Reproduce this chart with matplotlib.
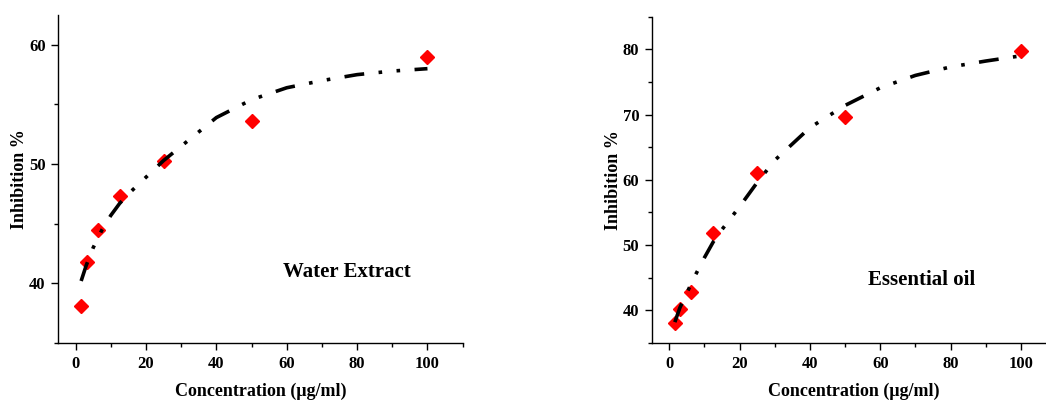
import numpy as np
import matplotlib
matplotlib.use("Agg")
import matplotlib.pyplot as plt
from matplotlib.ticker import MultipleLocator

plt.rcParams['font.family'] = ['Liberation Serif', 'DejaVu Serif']
plt.rcParams['font.weight'] = 'bold'

# concentrations (ug/ml)
conc = [1.5625, 3.125, 6.25, 12.5, 25, 50, 100]

# measured inhibition %
water = [38.1, 41.8, 44.5, 47.3, 50.3, 53.6, 59.0]
oil = [38.1, 40.2, 42.8, 51.8, 61.0, 69.6, 79.7]

# fitted curves
fit_x = [1.5625, 3, 5, 7.5, 10, 12.5, 15, 20, 25, 30, 40, 50, 60, 70, 80, 90, 100]
water_fit = [40.2, 41.5, 43.0, 44.5, 45.7, 46.7, 47.5, 48.9, 50.3, 51.5, 53.9, 55.4, 56.4, 57.0, 57.5, 57.8, 58.0]
oil_fit = [38.2, 40.4, 42.7, 45.5, 48.1, 50.5, 52.4, 55.9, 59.6, 63.0, 68.0, 71.4, 74.1, 76.0, 77.3, 78.2, 79.0]

labels = ['Water Extract', 'Essential oil']

fig = plt.figure(figsize=(10.46, 4.01), dpi=100)
ax1 = fig.add_axes([0.0555, 0.1446, 0.3868, 0.818])
ax2 = fig.add_axes([0.6231, 0.1446, 0.3864, 0.8138])

dash = (0, (5.5, 4, 1, 4, 1, 4))

def panel(ax, y, fit, ylim, ymaj, label, lx, ly):
    ax.plot(conc, y, 'D', color='#ff0000', ms=6.8, zorder=2, clip_on=False)
    ax.plot(fit_x, fit, color='black', lw=2.6, linestyle=dash, zorder=3)
    ax.set_xlim(-5, 110)
    ax.set_ylim(*ylim)
    ax.xaxis.set_major_locator(MultipleLocator(20))
    ax.xaxis.set_minor_locator(MultipleLocator(10))
    ax.yaxis.set_major_locator(MultipleLocator(ymaj))
    ax.yaxis.set_minor_locator(MultipleLocator(ymaj / 2))
    ax.spines['top'].set_visible(False)
    ax.spines['right'].set_visible(False)
    for s in ('left', 'bottom'):
        ax.spines[s].set_linewidth(1.0)
    ax.tick_params(which='major', direction='out', length=5, width=1, labelsize=12, pad=4)
    ax.tick_params(which='minor', direction='out', length=3, width=1)
    for t in ax.get_xticklabels() + ax.get_yticklabels():
        t.set_fontweight('bold')
    ax.set_xlabel('Concentration (μg/ml)', fontsize=13, fontweight='bold', labelpad=8)
    ax.set_ylabel('Inhibition %', fontsize=13, fontweight='bold', labelpad=0.5)
    ax.text(lx, ly, label, fontsize=15, fontweight='bold', va='center', ha='left')

panel(ax1, water, water_fit, (35, 62.5), 10, labels[0], 59, 40.95)
panel(ax2, oil, oil_fit, (35, 85), 10, labels[1], 56.5, 44.7)

fig.savefig('out.png', dpi=100)
